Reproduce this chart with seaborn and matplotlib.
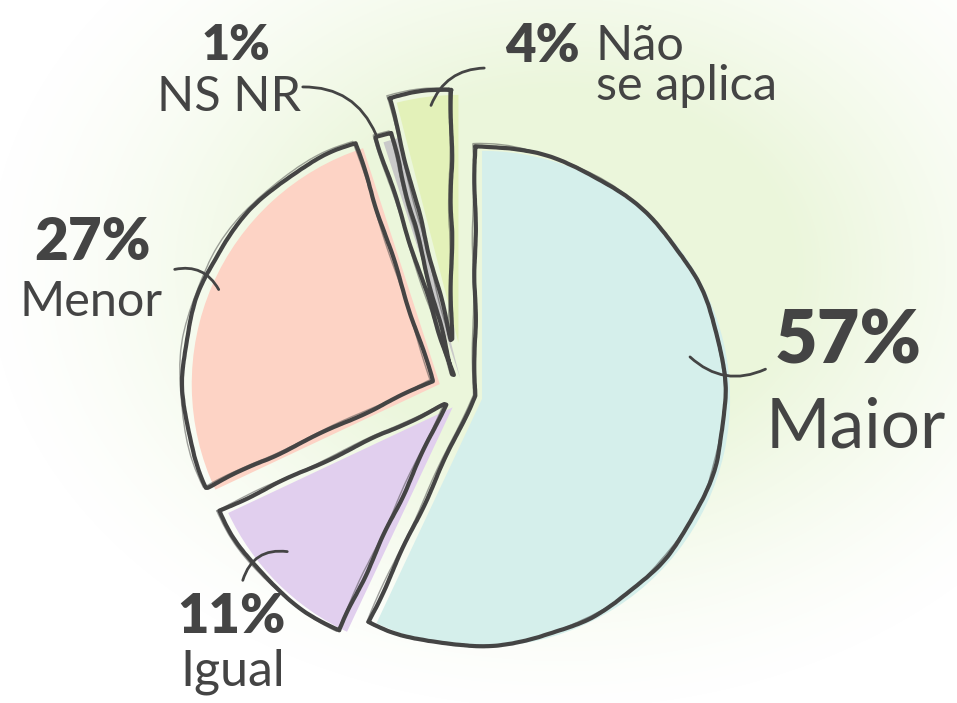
"""
Pie chart: Maior / Igual / Menor / NS NR / Não se aplica, hand-drawn look.
Saves out.png (957x703).
"""

import numpy as np
import matplotlib
matplotlib.use('Agg')
import matplotlib.pyplot as plt
from matplotlib.patches import FancyArrowPatch
import seaborn as sns

# ── Data ──────────────────────────────────────────────────────────────────────
categories   = ["Maior", "Igual", "Menor", "NS NR", "Não se aplica"]
shares       = [57, 11, 27, 1, 4]
pct_labels   = ["57%", "11%", "27%", "1%", "4%"]
name_labels  = ["Maior", "Igual", "Menor", "NS NR", "Não\nse aplica"]
slice_colors = ["#d5efeb", "#e1cfee", "#fdd3c5", "#c9c9c9", "#e3f1b9"]
explode      = [0.07, 0.07, 0.11, 0.07, 0.21]   # fraction of radius

W, H = 957, 703
CX, CY, R = 458, H - 392, 250
INK = "#444444"

sns.set_theme(style="white")
plt.rcParams['font.family'] = ['Lato', 'DejaVu Sans']

fig = plt.figure(figsize=(W / 100, H / 100), dpi=100)
ax = fig.add_axes([0, 0, 1, 1])

# ── Watercolour-ish green background blob ─────────────────────────────────────
yy, xx = np.mgrid[0:H, 0:W]
img_y = H - yy
d = ((xx - 560) / 430.0) ** 2 + ((img_y - 270) / 330.0) ** 2
alpha = np.clip(1.7 * np.exp(-d * 1.2) - 0.2, 0, 1)
bg = np.zeros((H, W, 4))
bg[..., 0], bg[..., 1], bg[..., 2] = 0.925, 0.965, 0.86
bg[..., 3] = alpha
ax.imshow(bg, origin='lower', extent=(0, W, 0, H), zorder=0, interpolation='bilinear')

# ── Pie: fill (slightly misregistered) + sketchy outlines ─────────────────────
offsets = [e * R for e in explode]
fills, _ = ax.pie(shares, colors=slice_colors, explode=offsets, startangle=90,
                  counterclock=False, center=(CX + 7, CY - 3), radius=R - 2,
                  wedgeprops=dict(linewidth=0))
for w in fills:
    w.set_zorder(2)

outlines, _ = ax.pie(shares, colors=slice_colors, explode=offsets, startangle=90,
                     counterclock=False, center=(CX, CY), radius=R,
                     wedgeprops=dict(fill=False, edgecolor=INK, linewidth=3.0,
                                     joinstyle='round'))
for w in outlines:
    w.set_zorder(3)
    w.set_sketch_params(scale=0.8, length=120, randomness=3)

ghost, _ = ax.pie(shares, colors=slice_colors, explode=offsets, startangle=90,
                  counterclock=False, center=(CX - 2, CY + 1), radius=R + 1,
                  wedgeprops=dict(fill=False, edgecolor=INK, linewidth=1.0, alpha=0.5))
for w in ghost:
    w.set_zorder(3)
    w.set_sketch_params(scale=0.8, length=150, randomness=3)

# ── Labels (image coords -> y up) ─────────────────────────────────────────────
def put(x, y, s, size, bold=False, ha='center', va='center', ls=1.0):
    ax.text(x, H - y, s, fontsize=size, color=INK, ha=ha, va=va,
            fontweight='heavy' if bold else 'normal', linespacing=ls, zorder=5)

put(848, 343, pct_labels[0], 53, bold=True)
put(856, 428, name_labels[0], 50)
put(231, 617, pct_labels[1], 39, bold=True)
put(233, 672, name_labels[1], 36)
put(93, 243, pct_labels[2], 42, bold=True)
put(91, 302, name_labels[2], 35)
put(236, 46, pct_labels[3], 35, bold=True)
put(229, 97, name_labels[3], 35)
put(542, 46, pct_labels[4], 38, bold=True)
put(596, 66, name_labels[4], 35, ha='left', ls=0.9)

# ── Curved leader lines ───────────────────────────────────────────────────────
leaders = [((768, 368), (688, 355), -0.35),
           ((172, 270), (220, 292), -0.4),
           ((300, 87), (377, 137), -0.35),
           ((487, 68), (430, 108), 0.35),
           ((242, 583), (290, 552), -0.45)]
for (x0, y0), (x1, y1), rad in leaders:
    ax.add_patch(FancyArrowPatch((x0, H - y0), (x1, H - y1), arrowstyle='-',
                                 connectionstyle=f'arc3,rad={rad}',
                                 color=INK, lw=2.0, zorder=4))

ax.set_xlim(0, W)
ax.set_ylim(0, H)
ax.set_aspect('equal')
ax.axis('off')

fig.savefig("out.png", dpi=100)
plt.close(fig)
